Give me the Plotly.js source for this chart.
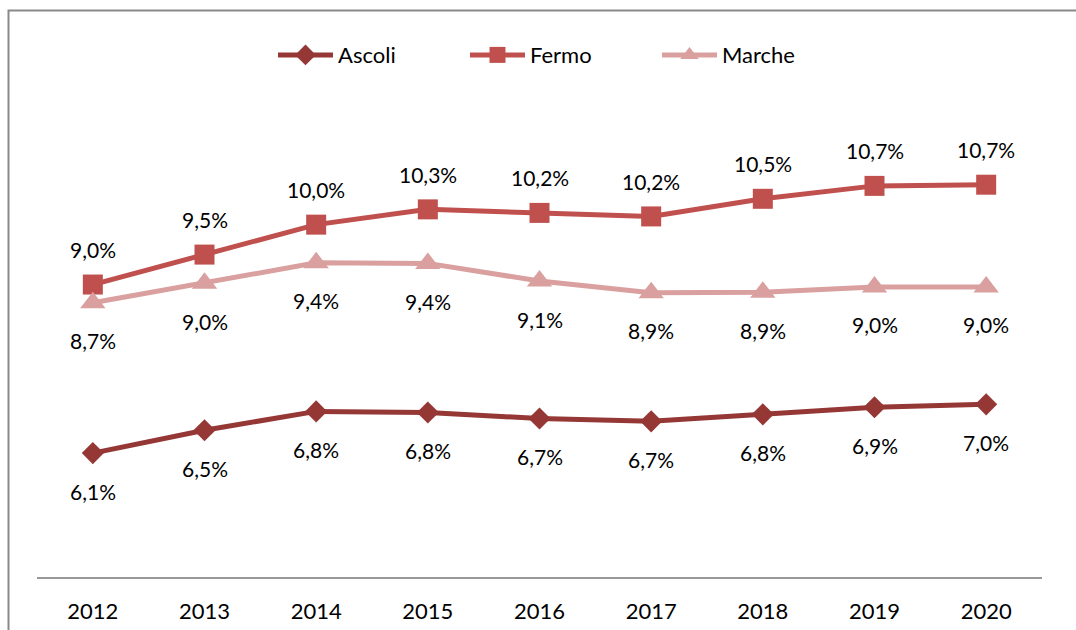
<!DOCTYPE html>
<html>
<head>
<meta charset="utf-8">
<script src="https://cdn.plot.ly/plotly-3.0.1.min.js"></script>
<style>html,body{margin:0;padding:0;background:#fff;}#chart{width:1076px;height:630px;}</style>
</head>
<body>
<div id="chart"></div>
<script>
const years = ["2012","2013","2014","2015","2016","2017","2018","2019","2020"];
const ascoli = [6.13, 6.52, 6.84, 6.82, 6.72, 6.67, 6.79, 6.91, 6.96];
const fermo  = [9.00, 9.51, 10.02, 10.28, 10.22, 10.16, 10.46, 10.68, 10.70];
const marche = [8.69, 9.02, 9.37, 9.36, 9.06, 8.86, 8.87, 8.96, 8.96];

const FONT = "Lato, 'Open Sans', 'DejaVu Sans', sans-serif";
const fmt = v => (Math.round(v * 10) / 10).toFixed(1).replace('.', ',') + '%';

const series = [
  {name: 'Ascoli', y: ascoli, color: '#953735', symbol: 'diamond', size: 17, shift: -38},
  {name: 'Fermo',  y: fermo,  color: '#C0504D', symbol: 'square', size: 20, shift: 35},
  {name: 'Marche', y: marche, color: '#D9A09F', symbol: 'triangle-up', size: 22, shift: -38}
];

const traces = series.map(s => ({
  type: 'scatter', mode: 'lines+markers', name: s.name,
  x: years, y: s.y,
  line: {color: s.color, width: 5},
  marker: {color: s.color, symbol: s.symbol, size: s.size},
  hoverinfo: 'skip'
}));

const annotations = [];
series.forEach(s => {
  s.y.forEach((v, i) => {
    annotations.push({
      x: i, y: v, xref: 'x', yref: 'y',
      text: fmt(v), showarrow: false,
      yshift: s.shift, yanchor: 'middle', xanchor: 'center',
      font: {family: FONT, size: 21, color: '#000'}
    });
  });
});

const layout = {
  width: 1076, height: 630,
  margin: {l: 37, r: 34, t: 79, b: 53},
  paper_bgcolor: '#fff', plot_bgcolor: '#fff',
  showlegend: true,
  legend: {
    orientation: 'h', x: (273 - 37) / 1005, xanchor: 'left', y: 1.048, yanchor: 'middle',
    font: {family: FONT, size: 22, color: '#000'},
    entrywidth: 122, entrywidthmode: 'pixels', itemwidth: 55, tracegroupgap: 0
  },
  xaxis: {
    type: 'category', range: [-0.5, 8.5],
    showgrid: false, zeroline: false,
    showline: true, linecolor: '#999', linewidth: 2,
    ticks: '', ticklabelstandoff: 14,
    tickfont: {family: FONT, size: 22, color: '#000'},
    fixedrange: true
  },
  yaxis: {
    range: [4.02, 12.5], visible: false, showgrid: false, zeroline: false, fixedrange: true
  },
  annotations: annotations,
  shapes: [{
    type: 'rect', xref: 'paper', yref: 'paper',
    x0: (8.5 - 37) / 1005, x1: (1100 - 37) / 1005,
    y0: (577 - 660) / 498, y1: (577 - 10.5) / 498,
    line: {color: '#898989', width: 2}, fillcolor: 'rgba(0,0,0,0)', layer: 'below'
  }]
};

Plotly.newPlot('chart', traces, layout, {displayModeBar: false, staticPlot: true});
</script>
</body>
</html>
